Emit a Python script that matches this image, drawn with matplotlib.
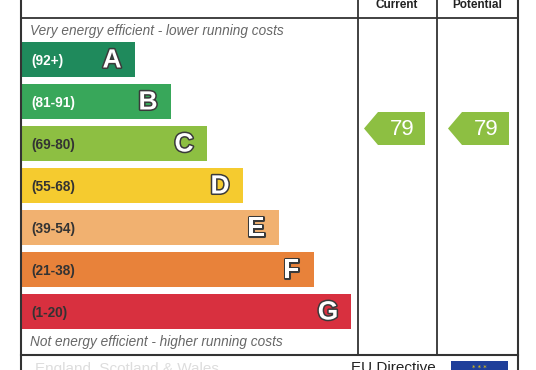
import matplotlib
matplotlib.use("Agg")
import matplotlib.pyplot as plt
import matplotlib.patheffects as pe
from matplotlib.patches import Polygon, Rectangle

bands = ["A", "B", "C", "D", "E", "F", "G"]
ranges = ["(92+)", "(81-91)", "(69-80)", "(55-68)", "(39-54)", "(21-38)", "(1-20)"]
band_colors = ["#1f8a5c", "#38a75a", "#8dbf42", "#f5cb2f", "#f1b170", "#e8823a", "#d8303f"]
range_text_colors = ["white", "white", "#333333", "#333333", "#333333", "#333333", "#333333"]
bar_ends = [135, 171, 207, 243, 279, 314, 351]   # right edges in pixels
current_rating = 79
potential_rating = 79
rating_color = "#8dbf42"
top_label = "Very energy efficient - lower running costs"
bottom_label = "Not energy efficient - higher running costs"

W, H = 536, 370
fig = plt.figure(figsize=(W / 100, H / 100), dpi=100)
ax = fig.add_axes([0, 0, 1, 1])
ax.set_xlim(0, W)
ax.set_ylim(H, 0)
ax.axis("off")

left = 22
bar_h = 35
y0 = 42
step = 42
centers = [y0 + bar_h / 2 + i * step for i in range(len(bands))]
ax.barh(centers, [e - left for e in bar_ends], left=left, height=bar_h,
        color=band_colors, edgecolor="none")

for c, e, b, r, tc in zip(centers, bar_ends, bands, ranges, range_text_colors):
    ax.text(left + 9, c + 1, r, ha="left", va="center", fontsize=9.8, fontweight="bold",
            color=tc, family="Liberation Sans")
    ax.text(e - 23, c + 1, b, ha="center", va="center", fontsize=19, fontweight="bold",
            color="white", family="Liberation Sans",
            path_effects=[pe.withStroke(linewidth=2.2, foreground="#3a3a3a")])

ax.text(30, 31, top_label, ha="left", va="center", fontsize=9.8, style="italic", color="#666666",
        family="Liberation Sans")
ax.text(30, 342, bottom_label, ha="left", va="center", fontsize=9.8, style="italic", color="#666666",
        family="Liberation Sans")

# grid lines
lc = "#333333"
ax.plot([21, 21], [0, H], color=lc, lw=1.5)
ax.plot([518, 518], [0, H], color=lc, lw=1.5)
ax.plot([358, 358], [0, 355], color=lc, lw=1.3)
ax.plot([437, 437], [0, 355], color=lc, lw=1.3)
ax.plot([21, 518], [18, 18], color=lc, lw=1.3)
ax.plot([21, 518], [355, 355], color=lc, lw=1.5)

ax.text(397, 5, "Current", ha="center", va="center", fontsize=8.5, fontweight="bold", color="#222222",
        family="Liberation Sans")
ax.text(477, 5, "Potential", ha="center", va="center", fontsize=8.5, fontweight="bold", color="#222222",
        family="Liberation Sans")

def arrow(x_left, x_right, rating):
    yc = 128.5
    hh = 16.5
    tip = 14
    pts = [(x_left, yc), (x_left + tip, yc - hh), (x_right, yc - hh),
           (x_right, yc + hh), (x_left + tip, yc + hh)]
    ax.add_patch(Polygon(pts, closed=True, facecolor=rating_color, edgecolor="none"))
    ax.text((x_left + tip + x_right) / 2 + 1, yc + 1, str(rating), ha="center", va="center",
            fontsize=16, color="white", family="Liberation Sans")

arrow(364, 425, current_rating)
arrow(448, 509, potential_rating)

# footer (partially visible)
ax.text(393, 375, "EU Directive", ha="center", va="bottom", fontsize=11, color="#222222",
        family="Liberation Sans")
ax.text(35, 376, "England, Scotland & Wales", ha="left", va="bottom", fontsize=11,
        color="#dddddd", family="Liberation Sans")
ax.add_patch(Rectangle((451, 361), 57, 12, facecolor="#1f3f9a", edgecolor="none"))
ax.text(479.5, 368, "* * *", ha="center", va="center", fontsize=5, color="#f5d000")

fig.savefig("out.png", dpi=100)
